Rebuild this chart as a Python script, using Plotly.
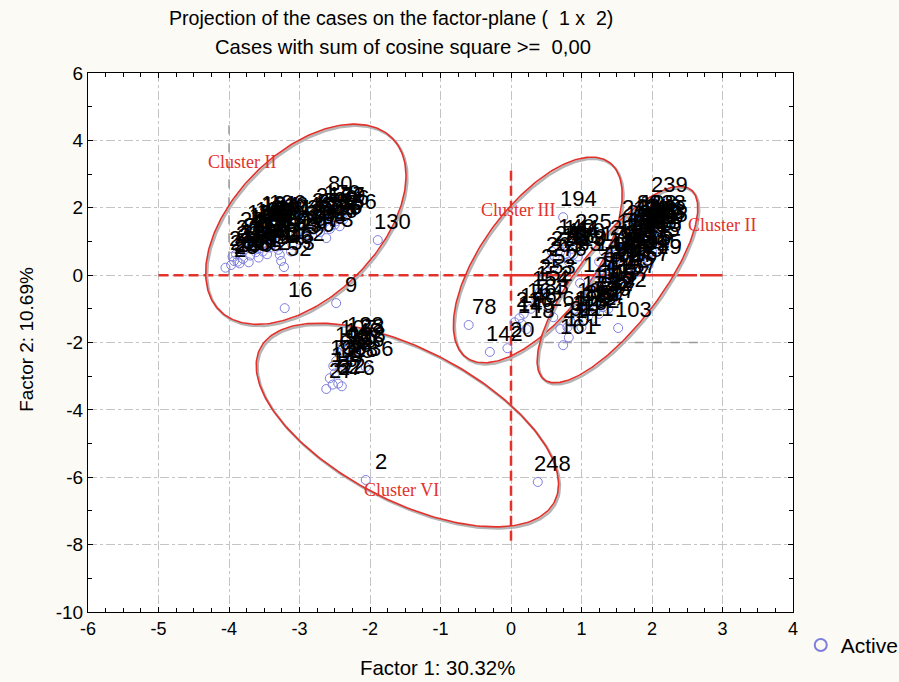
import numpy as np
import plotly.graph_objects as go

# ---------------- data (factor coordinates, case labels) ----------------
clusterA_left_x = [-4.05, -3.97, -3.88, -3.80, -3.70, -3.62, -3.90, -3.78, -3.68, -3.56, -3.50, -3.72, -3.60, -3.45, -3.66,
                   -3.52, -3.40, -3.58, -3.45, -3.35, -3.50, -3.38, -3.30, -3.38, -3.46, -3.58, -3.72, -3.85, -3.80, -3.30,
                   -3.95, -3.85, -3.75, -3.65, -3.55, -3.42, -3.35, -3.42, -3.52, -3.62, -3.70, -3.48, -3.28, -3.93, -3.85]
clusterA_left_y = [0.22, 0.30, 0.40, 0.48, 0.58, 0.68, 0.62, 0.75, 0.85, 0.80, 0.95, 1.00, 1.08, 1.12, 1.22,
                   1.28, 1.30, 1.40, 1.45, 1.50, 1.58, 1.62, 1.20, 0.92, 0.62, 0.52, 0.38, 0.85, 1.10, 0.75,
                   0.55, 0.70, 0.92, 1.15, 1.35, 1.40, 1.05, 0.82, 0.70, 0.95, 1.30, 1.55, 1.45, 0.42, 0.35]
clusterA_left_lab = ["2", "23", "266", "200", "28", "180", "21", "126", "117", "30", "219", "27", "189", "100", "188",
                     "213", "120", "199", "24", "190", "181", "196", "41", "65", "91", "1", "235", "206", "222", "11",
                     "245", "221", "210", "193", "185", "187", "119", "39", "94", "217", "182", "184", "191", "267", "230"]

clusterA_right_x = [-3.22, -3.26, -3.28, -3.12, -2.99, -2.90, -2.82, -2.71, -2.57, -2.43, -2.95, -2.85, -2.75, -2.65,
                    -2.55, -2.45, -2.60, -2.72, -2.64, -2.48, -2.38, -2.60, -2.88, -3.00, -1.89, -3.21, -2.48,
                    -3.05, -2.92, -2.80, -2.68, -2.50, -2.40, -2.55, -2.78, -3.10, -2.62]
clusterA_right_y = [0.24, 0.42, 0.60, 0.70, 1.04, 0.95, 1.19, 1.28, 1.37, 1.45, 1.30, 1.45, 1.55, 1.62,
                    1.70, 1.80, 1.90, 1.82, 2.17, 1.60, 1.65, 1.45, 1.65, 1.55, 1.04, -0.98, -0.83,
                    1.20, 1.12, 1.35, 1.45, 1.50, 1.75, 1.85, 1.68, 0.90, 1.10]
clusterA_right_lab = ["52", "253", "146", "162", "26", "36", "166", "31", "46", "6", "38", "260", "176", "37",
                      "29", "79", "179", "256", "80", "35", "156", "63", "8", "246", "130", "16", "9",
                      "48", "167", "262", "33", "76", "66", "177", "259", "43", "73"]

clusterVI_x = [-2.62, -2.53, -2.45, -2.40, -2.57, -2.50, -2.42, -2.36, -2.48, -2.30, -2.40, -2.25, -2.18, -2.06,
               -2.38, -2.28, -2.18, -2.30, -2.45, -2.35, -2.52, -2.06, 0.38]
clusterVI_y = [-3.38, -3.25, -3.22, -3.30, -3.06, -2.92, -2.78, -2.62, -2.55, -2.48, -2.38, -2.32, -2.45, -2.73,
               -2.10, -2.00, -2.08, -2.20, -2.30, -2.75, -2.70, -6.08, -6.14]
clusterVI_lab = ["27", "62", "12", "276", "13", "127", "125", "18", "68", "10", "98", "128", "96", "36",
                 "107", "123", "28", "148", "108", "118", "138", "2", "248"]

clusterIII_x = [-0.60, -0.30, -0.05, 0.05, 0.12, 0.18, 0.28, 0.15, 0.22, 0.35, 0.41, 0.48, 0.60, 0.66, 0.58,
                0.78, 0.86, 0.96, 0.74, 0.82, 0.95, 0.72, 0.62, 0.70, 0.80, 0.88, 0.55, 0.45, 0.35]
clusterIII_y = [-1.48, -2.28, -2.17, -1.40, -1.28, -1.15, -1.00, -1.45, -1.60, -0.88, -0.50, 0.00, 0.25, 0.48, 0.70,
                0.62, 0.78, 1.04, 1.72, 0.40, 0.55, 0.90, 0.55, 0.70, 0.85, 0.60, 0.35, -0.30, -0.65]
clusterIII_lab = ["78", "142", "20", "14", "216", "146", "164", "145", "18", "183", "152", "252", "276", "74", "24",
                  "158", "150", "225", "194", "233", "13", "140", "226", "75", "141", "160", "263", "253", "154"]

clusterR_low_x = [0.74, 0.82, 0.70, 0.85, 0.95, 1.05, 1.15, 1.25, 1.35, 1.00, 1.15, 1.25, 1.38, 0.90, 1.05,
                  0.98, 1.46, 1.52, 0.60, 0.90, 1.00, 1.10, 1.20, 1.30, 0.80]
clusterR_low_y = [-2.08, -1.85, -1.60, -1.40, -1.25, -1.10, -0.95, -0.80, -0.70, -1.55, -1.30, -1.15, -1.00, -1.00,
                  -0.80, -0.24, -0.68, -1.57, -1.25, -1.35, -1.05, -1.20, -1.05, -0.95, -1.55]
clusterR_low_lab = ["161", "101", "21", "22", "112", "122", "62", "132", "42", "111", "92", "57", "77", "19", "172",
                    "12", "102", "103", "261", "113", "82", "72", "52", "86", "91"]

clusterR_up_x = [1.12, 1.22, 1.35, 1.50, 1.30, 1.45, 1.60, 1.35, 1.50, 1.65, 1.78, 1.42, 1.55, 1.70, 1.85, 1.95,
                 1.45, 1.58, 1.72, 1.88, 2.00, 1.55, 1.68, 1.82, 1.95, 2.03, 1.65, 1.78, 1.90, 2.03, 1.78, 1.92,
                 2.04, 1.88, 2.00, 2.03, 1.25, 1.32, 1.75, 1.62,
                 1.18, 1.28, 1.40, 1.50, 1.62, 1.72, 1.85, 1.95, 1.98, 1.92, 1.80, 1.68, 1.55, 1.40, 1.30,
                 1.60, 1.75, 1.88, 2.00, 1.70, 1.82, 1.48, 1.62, 1.95, 1.38]
clusterR_up_y = [-0.55, -0.35, -0.45, -0.50, -0.10, -0.15, -0.25, 0.20, 0.15, 0.05, 0.10, 0.50, 0.45, 0.35, 0.30, 0.45,
                 0.85, 0.75, 0.65, 0.60, 0.70, 1.05, 0.98, 0.90, 0.95, 1.05, 1.25, 1.20, 1.18, 1.25, 1.42, 1.40,
                 1.45, 1.60, 1.62, 2.14, 0.40, 0.70, 1.60, 1.45,
                 -0.20, 0.05, 0.35, 0.62, 0.90, 1.10, 1.30, 1.50, 1.20, 0.80, 0.55, 0.22, -0.05, -0.30, -0.55,
                 0.60, 0.80, 1.05, 1.35, 1.30, 1.50, 0.30, 0.45, 0.30, 0.05]
clusterR_up_lab = ["17", "1", "107", "137", "127", "147", "167", "3", "197", "27", "157", "113", "47", "87", "71", "245",
                   "231", "168", "207", "15", "5", "171", "55", "95", "215", "35", "118", "45", "209", "135", "186", "211",
                   "125", "198", "238", "239", "143", "173", "88", "241",
                   "7", "57", "67", "97", "117", "165", "205", "218", "229", "195", "175", "155", "145", "115", "105",
                   "187", "201", "203", "213", "227", "234", "139", "159", "249", "109"]

# cluster ellipses: centre, half-axis vectors (factor units)
ell_names = ["Cluster II", "Cluster VI", "Cluster III", "Cluster II"]
ell_cx = [-2.91, -1.47, 0.38, 1.51]
ell_cy = [1.51, -4.45, 0.45, -0.28]
ell_ax = [1.224, 2.086, 1.016, 1.041]
ell_ay = [2.56, -2.282, 2.894, 2.817]
ell_bx = [-0.722, 0.496, -0.634, -0.464]
ell_by = [1.511, 1.985, 0.973, 0.752]
ell_lab_x = [-3.82, -1.55, 0.10, 2.99]
ell_lab_y = [3.35, -6.38, 1.93, 1.48]

# axes
x_tickvals = [-6, -5, -4, -3, -2, -1, 0, 1, 2, 3, 4]
x_ticktext = ["-6", "-5", "-4", "-3", "-2", "-1", "0", "1", "2", "3", "4"]
y_tickvals = [-10, -8, -6, -4, -2, 0, 2, 4, 6]
y_ticktext = ["-10", "-8", "-6", "-4", "-2", "0", "2", "4", "6"]
x_range = [-6, 4]
y_range = [-10, 6]

# ------------------------------------------------------------------------
xs = clusterA_left_x + clusterA_right_x + clusterVI_x + clusterIII_x + clusterR_low_x + clusterR_up_x
ys = clusterA_left_y + clusterA_right_y + clusterVI_y + clusterIII_y + clusterR_low_y + clusterR_up_y
labs = clusterA_left_lab + clusterA_right_lab + clusterVI_lab + clusterIII_lab + clusterR_low_lab + clusterR_up_lab

RED = "#e3312b"
SANS = "Liberation Sans, Arial"

fig = go.Figure()

# dark grey dashed guide segments
fig.add_trace(go.Scatter(x=[-4, -4], y=[4.45, 0], mode="lines", line=dict(color="#9a9a9a", width=1.5, dash="dash"),
                         showlegend=False, hoverinfo="skip"))
fig.add_trace(go.Scatter(x=[0.48, 2.68], y=[-2, -2], mode="lines", line=dict(color="#9a9a9a", width=1.5, dash="dash"),
                         showlegend=False, hoverinfo="skip"))

# red cross lines
fig.add_trace(go.Scatter(x=[-5, 0], y=[0, 0], mode="lines", line=dict(color=RED, width=2.5, dash="10px,5px"),
                         showlegend=False, hoverinfo="skip"))
fig.add_trace(go.Scatter(x=[0, 3], y=[0, 0], mode="lines", line=dict(color=RED, width=2.5, dash="60px,3px"),
                         showlegend=False, hoverinfo="skip"))
fig.add_trace(go.Scatter(x=[0, 0], y=[3.1, -8], mode="lines", line=dict(color=RED, width=2.5, dash="10px,5px"),
                         showlegend=False, hoverinfo="skip"))

# ellipses with grey shadow
t = np.linspace(0, 2 * np.pi, 240)
for i in range(len(ell_cx)):
    ex = ell_cx[i] + ell_ax[i] * np.cos(t) + ell_bx[i] * np.sin(t)
    ey = ell_cy[i] + ell_ay[i] * np.cos(t) + ell_by[i] * np.sin(t)
    fig.add_trace(go.Scatter(x=ex + 0.02, y=ey - 0.05, mode="lines", line=dict(color="#b4b4b4", width=2.5),
                             showlegend=False, hoverinfo="skip"))
    fig.add_trace(go.Scatter(x=ex, y=ey, mode="lines", line=dict(color=RED, width=1.6),
                             showlegend=False, hoverinfo="skip"))

# points
fig.add_trace(go.Scatter(x=xs, y=ys, mode="markers", name="Active",
                         marker=dict(symbol="circle-open", size=9, color="#7e7ee0", line=dict(width=1)),
                         showlegend=True))

annotations = []
for x, y, s in zip(xs, ys, labs):
    annotations.append(dict(x=x, y=y, xref="x", yref="y", text=s, showarrow=False, xanchor="center",
                            yanchor="bottom", xshift=15, yshift=4, font=dict(family=SANS, size=22, color="black")))
for nm, lx, ly in zip(ell_names, ell_lab_x, ell_lab_y):
    annotations.append(dict(x=lx, y=ly, xref="x", yref="y", text=nm, showarrow=False,
                            font=dict(family="Liberation Serif, Times New Roman", size=18, color=RED)))

annotations += [
    dict(x=0.43, y=1.102, xref="paper", yref="paper", text="Projection of the cases on the factor-plane (  1 x  2)",
         showarrow=False, xanchor="center", yanchor="middle", font=dict(family=SANS, size=19.6, color="black")),
    dict(x=0.447, y=1.048, xref="paper", yref="paper", text="Cases with sum of cosine square >=  0,00",
         showarrow=False, xanchor="center", yanchor="middle", font=dict(family=SANS, size=20.2, color="black")),
    dict(x=0.496, y=-0.104, xref="paper", yref="paper", text="Factor 1: 30.32%",
         showarrow=False, xanchor="center", yanchor="middle", font=dict(family=SANS, size=20.4, color="black")),
    dict(x=-0.0865, y=0.505, xref="paper", yref="paper", text="Factor 2: 10.69%", textangle=-90,
         showarrow=False, xanchor="center", yanchor="middle", font=dict(family=SANS, size=19, color="black")),
]

fig.update_layout(
    width=899, height=682,
    margin=dict(l=88, r=106, t=73, b=70, autoexpand=False),
    paper_bgcolor="#fbfaf5", plot_bgcolor="white",
    annotations=annotations,
    legend=dict(x=1.011, y=-0.062, xanchor="left", yanchor="middle", bgcolor="rgba(0,0,0,0)",
                font=dict(family=SANS, size=21, color="black"), itemsizing="constant"),
)
fig.update_xaxes(range=x_range, tickvals=x_tickvals, ticktext=x_ticktext, ticks="inside", ticklen=5, tickcolor="black",
                 mirror="allticks", showline=True, linecolor="black", linewidth=1,
                 showgrid=True, gridcolor="#c4c4c4", griddash="dashdot", gridwidth=1, zeroline=False,
                 minor=dict(dtick=0.25, tick0=-6, ticks="inside", ticklen=4, tickcolor="black", showgrid=False),
                 tickfont=dict(family=SANS, size=18, color="black"))
fig.update_yaxes(range=y_range, tickvals=y_tickvals, ticktext=y_ticktext, ticks="inside", ticklen=5, tickcolor="black",
                 mirror="allticks", showline=True, linecolor="black", linewidth=1,
                 showgrid=True, gridcolor="#c4c4c4", griddash="dashdot", gridwidth=1, zeroline=False,
                 minor=dict(dtick=1, tick0=-10, ticks="inside", ticklen=4, tickcolor="black", showgrid=False),
                 tickfont=dict(family=SANS, size=19, color="black"))

fig.write_html("out.html")
